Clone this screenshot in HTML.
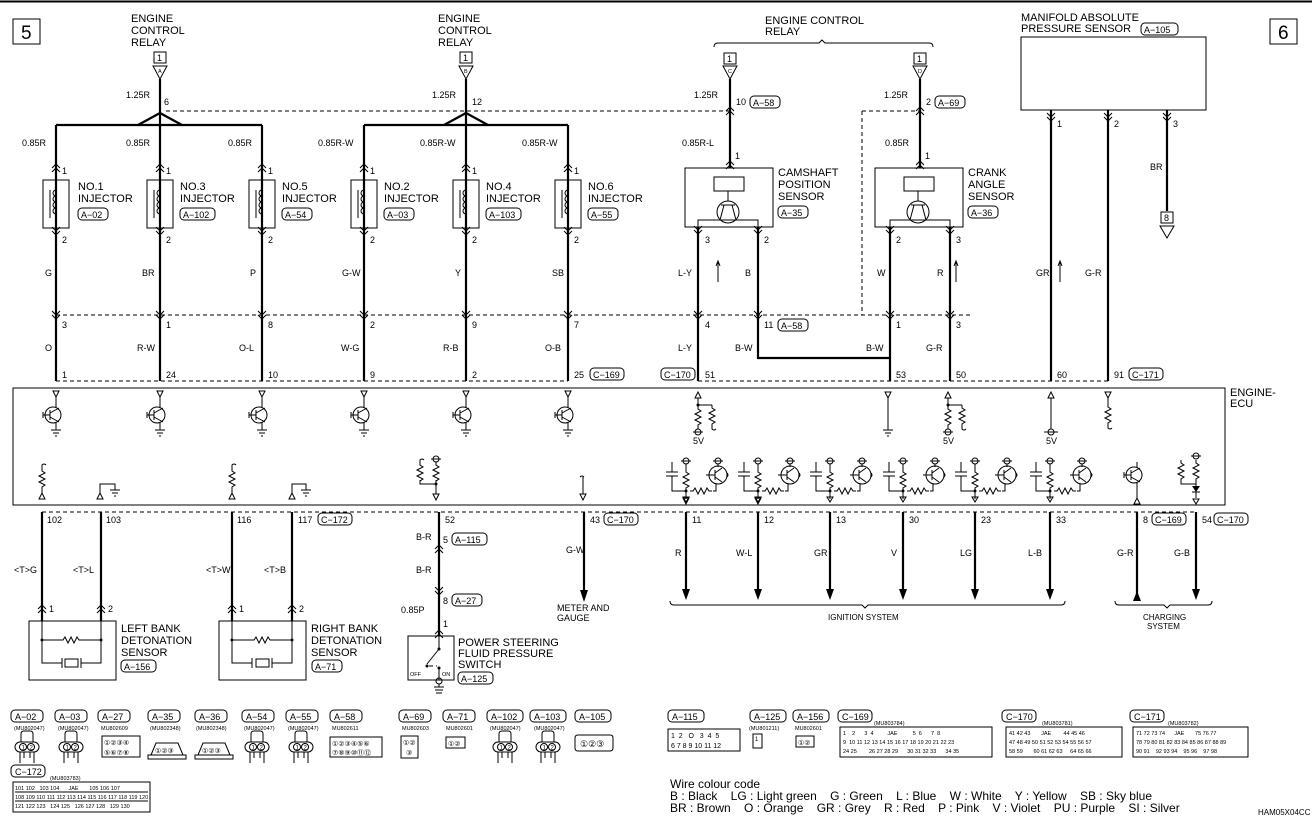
<!DOCTYPE html>
<html><head><meta charset="utf-8"><style>
html,body{margin:0;padding:0;background:#fff}
svg{display:block}
text{font-family:"Liberation Sans",sans-serif;fill:#000;white-space:pre}
.t{font-size:11px}
.s{font-size:9px}
.xs{font-size:5.5px}
.w{stroke:#000;stroke-width:2.2;fill:none}
.l{stroke:#000;stroke-width:1;fill:none}
.d{stroke:#000;stroke-width:1;fill:none;stroke-dasharray:4,3}
</style></head><body>
<svg width="1312" height="818" viewBox="0 0 1312 818" xmlns="http://www.w3.org/2000/svg" xml:space="preserve">
<defs>
<g id="inj">
 <rect x="-13" y="180" width="26" height="48" class="l"/>
 <path d="M0 186 v4 a3 3 0 0 0 0 6 a3 3 0 0 0 0 6 a3 3 0 0 0 0 6 a3 3 0 0 0 0 6 v8" class="l"/>
 <line x1="-6" y1="190" x2="-6" y2="218" class="l"/>
</g>
<g id="tr">
 <circle cx="0" cy="0" r="8" class="l"/>
 <line x1="-3" y1="-5" x2="-3" y2="5" class="l"/>
 <line x1="-10" y1="0" x2="-3" y2="0" class="l"/>
 <path d="M-3 -2 L6 -7 M-3 2 L6 7" class="l"/>
 <line x1="-10" y1="-3" x2="-10" y2="3" class="l"/>
</g>
<g id="res"><path d="M0 0 v3 l3 2 l-6 3 l6 3 l-6 3 l6 3 l-3 2 v3" class="l"/></g>
<g id="hres"><path d="M0 0 h3 l2 -3 l3 6 l3 -6 l3 6 l3 -6 l2 3 h3" class="l"/></g>
<g id="ign">
 <line x1="-14" y1="-13" x2="-14" y2="-3" class="l"/>
 <line x1="-20" y1="-3" x2="-8" y2="-3" class="l"/>
 <line x1="-20" y1="1" x2="-8" y2="1" class="l"/>
 <path d="M-14 1 V16 H0" class="l"/>
 <circle cx="0" cy="-14" r="3" class="l"/><line x1="-5" y1="-14" x2="5" y2="-14" class="l"/>
 <line x1="0" y1="-11" x2="0" y2="-6" class="l"/>
 <use href="#res" x="0" y="-6"/>
 <line x1="0" y1="16" x2="0" y2="24" class="l"/>
 <path d="M-3 22 h6 l-3 5 z" class="l"/>
 <circle cx="0" cy="16" r="1.5" fill="#000"/>
 <use href="#hres" x="4" y="16"/>
 <path d="M27 16 H30 V8" class="l"/>
 <circle cx="32" cy="-14" r="3" class="l"/><line x1="27" y1="-14" x2="37" y2="-14" class="l"/>
 <line x1="32" y1="-11" x2="32" y2="-8" class="l"/>
 <circle cx="32" cy="0" r="9" class="l"/>
 <line x1="29" y1="-5" x2="29" y2="5" class="l"/>
 <path d="M29 -2 L36 -7 M29 2 L36 7 M20 0 H29" class="l"/>
 <path d="M41 -2 q2 2 0 4" class="l"/>
</g>
<g id="chev"><path d="M-4 -3 L0 1 L4 -3 M-4 1 L0 5 L4 1" class="l"/></g>
<g id="up"><path d="M-4 3 L0 -1 L4 3 M-4 7 L0 3 L4 7" class="l"/></g>
<g id="tri"><path d="M-3 0 h6 l-3 6 z" class="l"/></g>
<g id="gnd"><path d="M-5 0 h10 M-3 3 h6 M-1 6 h2" class="l"/></g>
</defs>

<line x1="0" y1="1.5" x2="1312" y2="1.5" stroke="#000" stroke-width="2"/>
<rect x="13" y="19" width="27" height="25" class="l"/><text x="21" y="39" style="font-size:19px">5</text>
<rect x="1270" y="19" width="27" height="25" class="l"/><text x="1278" y="39" style="font-size:19px">6</text>

<!-- relay A -->
<text class="t" x="131" y="22">ENGINE</text><text class="t" x="131" y="34">CONTROL</text><text class="t" x="131" y="46">RELAY</text>
<rect x="154" y="52" width="12" height="11" class="l"/><text class="s" x="157" y="61">1</text>
<path d="M153 66 h14 l-7 13 z" class="l"/><text class="xs" x="158" y="73">A</text>
<line x1="160" y1="79" x2="160" y2="113" class="w"/>
<text class="s" x="126" y="98">1.25R</text><text class="s" x="164" y="105">6</text>
<path d="M160 113 L138 125 M160 113 L182 125" class="w"/>
<line x1="56" y1="125" x2="262" y2="125" class="w"/>
<!-- relay B -->
<text class="t" x="438" y="22">ENGINE</text><text class="t" x="438" y="34">CONTROL</text><text class="t" x="438" y="46">RELAY</text>
<rect x="460" y="52" width="12" height="11" class="l"/><text class="s" x="463" y="61">1</text>
<path d="M459 66 h14 l-7 13 z" class="l"/><text class="xs" x="464" y="73">B</text>
<line x1="466" y1="79" x2="466" y2="113" class="w"/>
<text class="s" x="432" y="98">1.25R</text><text class="s" x="472" y="105">12</text>
<path d="M466 113 L444 125 M466 113 L488 125" class="w"/>
<line x1="364" y1="125" x2="568" y2="125" class="w"/>
<line x1="166" y1="111" x2="730" y2="111" class="d"/>

<!-- injectors -->
<g>
<line x1="56" y1="125" x2="56" y2="381" class="w"/><line x1="160" y1="113" x2="160" y2="381" class="w"/><line x1="262" y1="125" x2="262" y2="381" class="w"/>
<line x1="364" y1="125" x2="364" y2="381" class="w"/><line x1="466" y1="113" x2="466" y2="381" class="w"/><line x1="568" y1="125" x2="568" y2="381" class="w"/>
<use href="#inj" x="56"/><use href="#inj" x="160"/><use href="#inj" x="262"/><use href="#inj" x="364"/><use href="#inj" x="466"/><use href="#inj" x="568"/>
</g>
<g>
<text class="s" x="22" y="146">0.85R</text><text class="s" x="126" y="146">0.85R</text><text class="s" x="228" y="146">0.85R</text>
<text class="s" x="318" y="146">0.85R-W</text><text class="s" x="420" y="146">0.85R-W</text><text class="s" x="522" y="146">0.85R-W</text>
<text class="s" x="62" y="174">1</text><text class="s" x="166" y="174">1</text><text class="s" x="268" y="174">1</text><text class="s" x="370" y="174">1</text><text class="s" x="472" y="174">1</text><text class="s" x="574" y="174">1</text>
<text class="s" x="62" y="243">2</text><text class="s" x="166" y="243">2</text><text class="s" x="268" y="243">2</text><text class="s" x="370" y="243">2</text><text class="s" x="472" y="243">2</text><text class="s" x="574" y="243">2</text>
<text class="s" x="45" y="276">G</text><text class="s" x="142" y="276">BR</text><text class="s" x="250" y="276">P</text><text class="s" x="342" y="276">G-W</text><text class="s" x="455" y="276">Y</text><text class="s" x="552" y="276">SB</text>
<text class="s" x="62" y="328">3</text><text class="s" x="166" y="328">1</text><text class="s" x="268" y="328">8</text><text class="s" x="370" y="328">2</text><text class="s" x="472" y="328">9</text><text class="s" x="574" y="328">7</text>
<text class="s" x="45" y="351">O</text><text class="s" x="137" y="351">R-W</text><text class="s" x="239" y="351">O-L</text><text class="s" x="341" y="351">W-G</text><text class="s" x="443" y="351">R-B</text><text class="s" x="545" y="351">O-B</text>
<text class="s" x="62" y="378">1</text><text class="s" x="166" y="378">24</text><text class="s" x="268" y="378">10</text><text class="s" x="370" y="378">9</text><text class="s" x="472" y="378">2</text><text class="s" x="574" y="378">25</text>
</g>
<g>
<text class="t" x="78" y="190">NO.1</text><text class="t" x="78" y="202">INJECTOR</text><rect x="78" y="208" width="30" height="12" rx="4" class="l"/><text class="s" x="81" y="218">A−02</text>
<text class="t" x="180" y="190">NO.3</text><text class="t" x="180" y="202">INJECTOR</text><rect x="180" y="208" width="35" height="12" rx="4" class="l"/><text class="s" x="183" y="218">A−102</text>
<text class="t" x="282" y="190">NO.5</text><text class="t" x="282" y="202">INJECTOR</text><rect x="282" y="208" width="30" height="12" rx="4" class="l"/><text class="s" x="285" y="218">A−54</text>
<text class="t" x="384" y="190">NO.2</text><text class="t" x="384" y="202">INJECTOR</text><rect x="384" y="208" width="30" height="12" rx="4" class="l"/><text class="s" x="387" y="218">A−03</text>
<text class="t" x="486" y="190">NO.4</text><text class="t" x="486" y="202">INJECTOR</text><rect x="486" y="208" width="35" height="12" rx="4" class="l"/><text class="s" x="489" y="218">A−103</text>
<text class="t" x="588" y="190">NO.6</text><text class="t" x="588" y="202">INJECTOR</text><rect x="588" y="208" width="30" height="12" rx="4" class="l"/><text class="s" x="591" y="218">A−55</text>
</g>
<rect x="590" y="368" width="34" height="12" rx="4" class="l"/><text class="s" x="593" y="378">C−169</text>
<line x1="56" y1="315" x2="970" y2="315" class="d"/>
<line x1="56" y1="381" x2="568" y2="381" class="d"/>
<line x1="698" y1="381" x2="1110" y2="381" class="d"/>

<!-- relay C/D -->
<text class="t" x="765" y="24">ENGINE CONTROL</text><text class="t" x="765" y="35">RELAY</text>
<path d="M714 47 q0 -4 4 -4 H819 l3 -3 l3 3 H929 q4 0 4 4" class="l"/>
<rect x="724" y="53" width="12" height="11" class="l"/><text class="s" x="727" y="62">1</text>
<path d="M723 66 h14 l-7 13 z" class="l"/><text class="xs" x="728" y="73">C</text>
<rect x="914" y="53" width="12" height="11" class="l"/><text class="s" x="917" y="62">1</text>
<path d="M913 66 h14 l-7 13 z" class="l"/><text class="xs" x="918" y="73">D</text>
<line x1="730" y1="79" x2="730" y2="168" class="w"/>
<line x1="920" y1="79" x2="920" y2="168" class="w"/>
<text class="s" x="694" y="98">1.25R</text><text class="s" x="736" y="105">10</text><rect x="750" y="96" width="30" height="12" rx="4" class="l"/><text class="s" x="753" y="106">A−58</text>
<text class="s" x="884" y="98">1.25R</text><text class="s" x="926" y="105">2</text><rect x="935" y="96" width="30" height="12" rx="4" class="l"/><text class="s" x="938" y="106">A−69</text>
<text class="s" x="682" y="146">0.85R-L</text><text class="s" x="885" y="146">0.85R</text>
<text class="s" x="735" y="159">1</text><text class="s" x="925" y="159">1</text>
<path d="M862 111 H920" class="d"/><path d="M862 111 V315" class="d"/>
<use href="#up" x="730" y="108"/><use href="#up" x="730" y="162"/><use href="#up" x="920" y="108"/><use href="#up" x="920" y="162"/>
<!-- cam sensor -->
<rect x="685" y="168" width="88" height="59" class="l"/>
<rect x="714" y="177" width="30" height="14" class="l"/>
<line x1="728" y1="191" x2="728" y2="201" class="l"/>
<circle cx="728" cy="212" r="11" class="l"/><path d="M721 205 h14 M724 205 l-4 15 M732 205 l4 15" class="l"/>
<path d="M698 227 V220 H758 V227" class="l"/>
<text class="t" x="778" y="176">CAMSHAFT</text><text class="t" x="778" y="188">POSITION</text><text class="t" x="778" y="200">SENSOR</text>
<rect x="778" y="206" width="30" height="12" rx="4" class="l"/><text class="s" x="781" y="216">A−35</text>
<!-- crank -->
<rect x="875" y="168" width="88" height="59" class="l"/>
<rect x="904" y="177" width="30" height="14" class="l"/>
<line x1="918" y1="191" x2="918" y2="201" class="l"/>
<circle cx="918" cy="212" r="11" class="l"/><path d="M911 205 h14 M914 205 l-4 15 M922 205 l4 15" class="l"/>
<path d="M890 227 V220 H950 V227" class="l"/>
<text class="t" x="968" y="176">CRANK</text><text class="t" x="968" y="188">ANGLE</text><text class="t" x="968" y="200">SENSOR</text>
<rect x="968" y="206" width="30" height="12" rx="4" class="l"/><text class="s" x="971" y="216">A−36</text>
<!-- cam/crank wires -->
<line x1="698" y1="227" x2="698" y2="381" class="w"/>
<path d="M758 227 V358 H890" class="w"/>
<line x1="890" y1="227" x2="890" y2="381" class="w"/>
<line x1="950" y1="227" x2="950" y2="381" class="w"/>
<text class="s" x="705" y="243">3</text><text class="s" x="764" y="243">2</text><text class="s" x="896" y="243">2</text><text class="s" x="956" y="243">3</text>
<text class="s" x="678" y="276">L-Y</text><text class="s" x="745" y="276">B</text><text class="s" x="877" y="276">W</text><text class="s" x="937" y="276">R</text>
<path d="M718 282 V262 M716 266 l2 -5 l2 5" class="l"/><path d="M956 282 V262 M954 266 l2 -5 l2 5" class="l"/>
<text class="s" x="705" y="328">4</text><text class="s" x="764" y="328">11</text><rect x="778" y="319" width="30" height="12" rx="4" class="l"/><text class="s" x="781" y="329">A−58</text>
<text class="s" x="896" y="328">1</text><text class="s" x="956" y="328">3</text>
<text class="s" x="678" y="351">L-Y</text><text class="s" x="735" y="351">B-W</text><text class="s" x="866" y="351">B-W</text><text class="s" x="926" y="351">G-R</text>
<rect x="661" y="368" width="34" height="12" rx="4" class="l"/><text class="s" x="664" y="378">C−170</text>
<text class="s" x="705" y="378">51</text><text class="s" x="896" y="378">53</text><text class="s" x="956" y="378">50</text>
<!-- MAP -->
<text class="t" x="1021" y="21">MANIFOLD ABSOLUTE</text><text class="t" x="1021" y="32">PRESSURE SENSOR</text>
<rect x="1141" y="23" width="37" height="12" rx="4" class="l"/><text class="s" x="1144" y="33">A−105</text>
<rect x="1021" y="37" width="185" height="73" class="l"/>
<line x1="1051" y1="110" x2="1051" y2="381" class="w"/>
<line x1="1108" y1="110" x2="1108" y2="381" class="w"/>
<line x1="1167" y1="110" x2="1167" y2="211" class="w"/>
<use href="#chev" x="1051" y="116"/><use href="#chev" x="1108" y="116"/><use href="#chev" x="1167" y="116"/>
<text class="s" x="1057" y="127">1</text><text class="s" x="1114" y="127">2</text><text class="s" x="1173" y="127">3</text>
<text class="s" x="1150" y="170">BR</text>
<rect x="1161" y="212" width="12" height="11" class="l"/><text class="s" x="1164" y="221">8</text>
<path d="M1160 226 h14 l-7 12 z" class="l"/>
<text class="s" x="1036" y="276">GR</text><text class="s" x="1085" y="276">G-R</text>
<path d="M1060 282 V262 M1058 266 l2 -5 l2 5" class="l"/>
<text class="s" x="1057" y="378">60</text><text class="s" x="1114" y="378">91</text>
<rect x="1129" y="368" width="34" height="12" rx="4" class="l"/><text class="s" x="1132" y="378">C−171</text>

<!-- chevrons -->
<g>
<use href="#chev" x="56" y="314"/><use href="#chev" x="160" y="314"/><use href="#chev" x="262" y="314"/><use href="#chev" x="364" y="314"/><use href="#chev" x="466" y="314"/><use href="#chev" x="568" y="314"/>
<use href="#chev" x="698" y="314"/><use href="#chev" x="758" y="314"/><use href="#chev" x="890" y="314"/><use href="#chev" x="950" y="314"/>
<use href="#chev" x="698" y="229"/><use href="#chev" x="758" y="229"/><use href="#chev" x="890" y="229"/><use href="#chev" x="950" y="229"/>
<use href="#up" x="56" y="165"/><use href="#up" x="160" y="165"/><use href="#up" x="262" y="165"/><use href="#up" x="364" y="165"/><use href="#up" x="466" y="165"/><use href="#up" x="568" y="165"/>
<use href="#chev" x="56" y="230"/><use href="#chev" x="160" y="230"/><use href="#chev" x="262" y="230"/><use href="#chev" x="364" y="230"/><use href="#chev" x="466" y="230"/><use href="#chev" x="568" y="230"/>
</g>

<!-- ECU -->
<rect x="13" y="388" width="1212" height="117" class="l"/>
<text class="t" x="1230" y="396">ENGINE-</text><text class="t" x="1230" y="407">ECU</text>
<g>
<use href="#tri" x="56" y="391"/><line x1="56" y1="397" x2="56" y2="408" class="l"/><use href="#tr" x="53" y="415"/><line x1="56" y1="422" x2="56" y2="430" class="l"/><use href="#gnd" x="56" y="430"/>
<use href="#tri" x="160" y="391"/><line x1="160" y1="397" x2="160" y2="408" class="l"/><use href="#tr" x="157" y="415"/><line x1="160" y1="422" x2="160" y2="430" class="l"/><use href="#gnd" x="160" y="430"/>
<use href="#tri" x="262" y="391"/><line x1="262" y1="397" x2="262" y2="408" class="l"/><use href="#tr" x="259" y="415"/><line x1="262" y1="422" x2="262" y2="430" class="l"/><use href="#gnd" x="262" y="430"/>
<use href="#tri" x="364" y="391"/><line x1="364" y1="397" x2="364" y2="408" class="l"/><use href="#tr" x="361" y="415"/><line x1="364" y1="422" x2="364" y2="430" class="l"/><use href="#gnd" x="364" y="430"/>
<use href="#tri" x="466" y="391"/><line x1="466" y1="397" x2="466" y2="408" class="l"/><use href="#tr" x="463" y="415"/><line x1="466" y1="422" x2="466" y2="430" class="l"/><use href="#gnd" x="466" y="430"/>
<use href="#tri" x="568" y="391"/><line x1="568" y1="397" x2="568" y2="408" class="l"/><use href="#tr" x="565" y="415"/><line x1="568" y1="422" x2="568" y2="430" class="l"/><use href="#gnd" x="568" y="430"/>
</g>
<g>
<path d="M695 398 h6 l-3 -6 z" class="l"/><line x1="698" y1="398" x2="698" y2="405" class="l"/><circle cx="698" cy="405" r="1.5"/><path d="M698 405 H712" class="l"/>
<use href="#res" x="698" y="406"/><use href="#res" x="712" y="405"/><line x1="698" y1="426" x2="698" y2="429" class="l"/><circle cx="698" cy="432" r="3" class="l"/><line x1="693" y1="432" x2="703" y2="432" class="l"/><text class="s" x="693" y="444">5V</text>
<path d="M712 425 v4 q2 2 4 0" class="l"/>
<path d="M885 392 h6 l-3 6 z" class="l"/><line x1="888" y1="398" x2="888" y2="430" class="l"/><use href="#gnd" x="888" y="430"/>
<path d="M945 398 h6 l-3 -6 z" class="l"/><line x1="948" y1="398" x2="948" y2="405" class="l"/><circle cx="948" cy="405" r="1.5"/><path d="M948 405 H962" class="l"/>
<use href="#res" x="948" y="406"/><use href="#res" x="962" y="405"/><line x1="948" y1="426" x2="948" y2="429" class="l"/><circle cx="948" cy="432" r="3" class="l"/><line x1="943" y1="432" x2="953" y2="432" class="l"/><text class="s" x="943" y="444">5V</text>
<path d="M962 425 v4 q2 2 4 0" class="l"/>
<path d="M1048 398 h6 l-3 -6 z" class="l"/><line x1="1051" y1="398" x2="1051" y2="429" class="l"/><circle cx="1051" cy="432" r="3" class="l"/><line x1="1044" y1="432" x2="1058" y2="432" class="l"/><text class="s" x="1046" y="444">5V</text>
<path d="M1105 392 h6 l-3 6 z" class="l"/><line x1="1108" y1="398" x2="1108" y2="404" class="l"/><use href="#res" x="1108" y="404"/><path d="M1108 424 v4 q2 2 4 0" class="l"/>
</g>
<use href="#ign" x="686" y="475"/><use href="#ign" x="758" y="475"/><use href="#ign" x="830" y="475"/>
<use href="#ign" x="903" y="475"/><use href="#ign" x="975" y="475"/><use href="#ign" x="1050" y="475"/>
<use href="#tr" x="1134" y="475"/><line x1="1137" y1="462" x2="1137" y2="468" class="l"/><line x1="1137" y1="482" x2="1137" y2="498" class="l"/><path d="M1134 504 h6 l-3 -6 z" class="l"/>
<use href="#res" x="1181" y="460"/><use href="#res" x="1196" y="460"/><circle cx="1196" cy="456" r="3" class="l"/><line x1="1191" y1="456" x2="1201" y2="456" class="l"/>
<path d="M1181 480 V484 H1196 M1196 480 V498" class="l"/><path d="M1192 486 h8 l-4 6 z" fill="#000"/><line x1="1192" y1="492" x2="1200" y2="492" class="l"/>
<path d="M1193 499 h6 l-3 5 z" class="l"/>
<path d="M39 499 h6 l-3 -6 z" class="l"/><line x1="42" y1="493" x2="42" y2="488" class="l"/><use href="#res" x="42" y="468"/><path d="M42 468 v-3 q2 -2 4 0" class="l"/>
<path d="M97 499 h6 l-3 -6 z" class="l"/><path d="M100 493 V484 H115 V490" class="l"/><use href="#gnd" x="115" y="490"/>
<path d="M229 499 h6 l-3 -6 z" class="l"/><line x1="232" y1="493" x2="232" y2="488" class="l"/><use href="#res" x="232" y="468"/><path d="M232 468 v-3 q2 -2 4 0" class="l"/>
<path d="M289 499 h6 l-3 -6 z" class="l"/><path d="M292 493 V484 H306 V490" class="l"/><use href="#gnd" x="306" y="490"/>
<path d="M433 494 h6 l-3 6 z" class="l"/><path d="M436 494 V484 H420 V480 M436 484 V480" class="l"/><circle cx="436" cy="484" r="1.5"/>
<use href="#res" x="420" y="462"/><use href="#res" x="436" y="462"/><circle cx="436" cy="459" r="3" class="l"/><line x1="431" y1="459" x2="441" y2="459" class="l"/><path d="M420 462 v-2 q2 -2 4 0" class="l"/>
<path d="M580 494 h6 l-3 6 z" class="l"/><line x1="583" y1="494" x2="583" y2="477" class="l"/><path d="M580 477 q2 -2 4 0" class="l"/>
<use href="#tri" x="686" y="498"/><use href="#tri" x="758" y="498"/>

<!-- below ECU -->
<line x1="42" y1="512" x2="1196" y2="512" class="d"/>
<g>
<line x1="42" y1="512" x2="42" y2="621" class="w"/><line x1="101" y1="512" x2="101" y2="621" class="w"/>
<line x1="232" y1="512" x2="232" y2="621" class="w"/><line x1="292" y1="512" x2="292" y2="621" class="w"/>
<line x1="439" y1="512" x2="439" y2="636" class="w"/>
<line x1="584" y1="512" x2="584" y2="592" class="w"/><path d="M580 590 h8 l-4 12 z" fill="#000"/>
</g>
<text class="s" x="47" y="523">102</text><text class="s" x="106" y="523">103</text><text class="s" x="237" y="523">116</text><text class="s" x="298" y="523">117</text>
<rect x="318" y="513" width="34" height="12" rx="4" class="l"/><text class="s" x="321" y="523">C−172</text>
<text class="s" x="445" y="523">52</text><text class="s" x="590" y="523">43</text>
<rect x="604" y="513" width="34" height="12" rx="4" class="l"/><text class="s" x="607" y="523">C−170</text>
<text class="s" x="14" y="573">&lt;T&gt;G</text><text class="s" x="73" y="573">&lt;T&gt;L</text><text class="s" x="206" y="573">&lt;T&gt;W</text><text class="s" x="264" y="573">&lt;T&gt;B</text>
<use href="#up" x="42" y="606"/><use href="#up" x="101" y="606"/><use href="#up" x="232" y="606"/><use href="#up" x="292" y="606"/>
<text class="s" x="49" y="612">1</text><text class="s" x="108" y="612">2</text><text class="s" x="239" y="612">1</text><text class="s" x="299" y="612">2</text>
<rect x="29" y="621" width="87" height="59" class="l"/>
<path d="M42 621 V663 H62 M101 621 V663 H81 M42 640 H62 M81 640 H101" class="l"/><use href="#hres" x="60" y="640"/>
<circle cx="42" cy="640" r="1.5"/><circle cx="101" cy="640" r="1.5"/>
<path d="M62 658 v10 M81 658 v10" class="l"/><rect x="65" y="659" width="13" height="8" class="l"/>
<text class="t" x="121" y="632">LEFT BANK</text><text class="t" x="121" y="644">DETONATION</text><text class="t" x="121" y="656">SENSOR</text>
<rect x="121" y="660" width="35" height="12" rx="4" class="l"/><text class="s" x="124" y="670">A−156</text>
<rect x="219" y="621" width="87" height="59" class="l"/>
<path d="M232 621 V663 H252 M292 621 V663 H272 M232 640 H252 M272 640 H292" class="l"/><use href="#hres" x="251" y="640"/>
<circle cx="232" cy="640" r="1.5"/><circle cx="292" cy="640" r="1.5"/>
<path d="M252 658 v10 M272 658 v10" class="l"/><rect x="256" y="659" width="13" height="8" class="l"/>
<text class="t" x="311" y="632">RIGHT BANK</text><text class="t" x="311" y="644">DETONATION</text><text class="t" x="311" y="656">SENSOR</text>
<rect x="312" y="660" width="30" height="12" rx="4" class="l"/><text class="s" x="315" y="670">A−71</text>
<text class="s" x="416" y="540">B-R</text><text class="s" x="443" y="543">5</text><rect x="452" y="533" width="35" height="12" rx="4" class="l"/><text class="s" x="455" y="543">A−115</text>
<use href="#up" x="439" y="546"/>
<text class="s" x="416" y="573">B-R</text>
<use href="#chev" x="439" y="590"/>
<text class="s" x="443" y="604">8</text><rect x="452" y="594" width="30" height="12" rx="4" class="l"/><text class="s" x="455" y="604">A−27</text>
<text class="s" x="401" y="613">0.85P</text><text class="s" x="443" y="627">1</text>
<use href="#up" x="439" y="631"/>
<rect x="408" y="636" width="46" height="44" class="l"/>
<path d="M439 636 V649 L427 664" class="l"/><circle cx="439" cy="649" r="1.5"/><circle cx="427" cy="666" r="1.5"/><circle cx="439" cy="668" r="1.5"/>
<path d="M429 666 h8" class="d"/><line x1="439" y1="668" x2="439" y2="680" class="l"/>
<text class="xs" x="410" y="676">OFF</text><text class="xs" x="442" y="676">ON</text>
<circle cx="439" cy="681" r="3" class="l"/><path d="M439 684 V687 M434 687 h10 M435 690 h8 M436 693 h6" class="l"/>
<text class="t" x="458" y="646">POWER STEERING</text><text class="t" x="458" y="657">FLUID PRESSURE</text><text class="t" x="458" y="668">SWITCH</text>
<rect x="458" y="672" width="35" height="12" rx="4" class="l"/><text class="s" x="461" y="682">A−125</text>
<text class="s" x="566" y="553">G-W</text>
<text class="s" x="557" y="611">METER AND</text><text class="s" x="557" y="621">GAUGE</text>
<g>
<line x1="686" y1="512" x2="686" y2="590" class="w"/><path d="M682 589 h8 l-4 11 z" fill="#000"/>
<line x1="758" y1="512" x2="758" y2="590" class="w"/><path d="M754 589 h8 l-4 11 z" fill="#000"/>
<line x1="830" y1="512" x2="830" y2="590" class="w"/><path d="M826 589 h8 l-4 11 z" fill="#000"/>
<line x1="903" y1="512" x2="903" y2="590" class="w"/><path d="M899 589 h8 l-4 11 z" fill="#000"/>
<line x1="975" y1="512" x2="975" y2="590" class="w"/><path d="M971 589 h8 l-4 11 z" fill="#000"/>
<line x1="1050" y1="512" x2="1050" y2="590" class="w"/><path d="M1046 589 h8 l-4 11 z" fill="#000"/>
<line x1="1137" y1="512" x2="1137" y2="600" class="w"/><path d="M1133 601 h8 l-4 -10 z" fill="#000"/>
<line x1="1196" y1="512" x2="1196" y2="590" class="w"/><path d="M1192 589 h8 l-4 11 z" fill="#000"/>
</g>
<text class="s" x="692" y="523">11</text><text class="s" x="764" y="523">12</text><text class="s" x="836" y="523">13</text><text class="s" x="909" y="523">30</text><text class="s" x="981" y="523">23</text><text class="s" x="1056" y="523">33</text>
<text class="s" x="1143" y="523">8</text><rect x="1152" y="513" width="34" height="12" rx="4" class="l"/><text class="s" x="1155" y="523">C−169</text>
<text class="s" x="1202" y="523">54</text><rect x="1214" y="513" width="34" height="12" rx="4" class="l"/><text class="s" x="1217" y="523">C−170</text>
<text class="s" x="675" y="556">R</text><text class="s" x="736" y="556">W-L</text><text class="s" x="814" y="556">GR</text><text class="s" x="891" y="556">V</text><text class="s" x="960" y="556">LG</text><text class="s" x="1028" y="556">L-B</text>
<text class="s" x="1117" y="556">G-R</text><text class="s" x="1174" y="556">G-B</text>
<path d="M670 601 q0 4 4 4 H862 l3 3 l3 -3 H1061 q4 0 4 -4" class="l"/>
<text x="828" y="620" style="font-size:8px">IGNITION SYSTEM</text>
<path d="M1115 601 q0 4 4 4 H1164 l3 3 l3 -3 H1208 q4 0 4 -4" class="l"/>
<text x="1143" y="620" style="font-size:8px">CHARGING</text><text x="1147" y="629" style="font-size:8px">SYSTEM</text>

<!-- connector legend -->
<g>
<rect x="11" y="710" width="32" height="12" rx="4" class="l"/><text class="s" x="15" y="720">A−02</text>
<rect x="55" y="710" width="32" height="12" rx="4" class="l"/><text class="s" x="59" y="720">A−03</text>
<rect x="98" y="710" width="32" height="12" rx="4" class="l"/><text class="s" x="102" y="720">A−27</text>
<rect x="148" y="710" width="32" height="12" rx="4" class="l"/><text class="s" x="152" y="720">A−35</text>
<rect x="195" y="710" width="32" height="12" rx="4" class="l"/><text class="s" x="199" y="720">A−36</text>
<rect x="242" y="710" width="32" height="12" rx="4" class="l"/><text class="s" x="246" y="720">A−54</text>
<rect x="286" y="710" width="32" height="12" rx="4" class="l"/><text class="s" x="290" y="720">A−55</text>
<rect x="330" y="710" width="32" height="12" rx="4" class="l"/><text class="s" x="334" y="720">A−58</text>
<rect x="399" y="710" width="32" height="12" rx="4" class="l"/><text class="s" x="403" y="720">A−69</text>
<rect x="443" y="710" width="32" height="12" rx="4" class="l"/><text class="s" x="447" y="720">A−71</text>
<rect x="487" y="710" width="36" height="12" rx="4" class="l"/><text class="s" x="491" y="720">A−102</text>
<rect x="530" y="710" width="36" height="12" rx="4" class="l"/><text class="s" x="534" y="720">A−103</text>
<rect x="575" y="710" width="36" height="12" rx="4" class="l"/><text class="s" x="579" y="720">A−105</text>
</g>
<g>
<text class="xs" x="14" y="730">(MU802047)</text><text class="xs" x="58" y="730">(MU802047)</text><text class="xs" x="101" y="730">MU802609</text>
<text class="xs" x="150" y="730">(MU802348)</text><text class="xs" x="196" y="730">(MU802348)</text><text class="xs" x="244" y="730">(MU802047)</text>
<text class="xs" x="288" y="730">(MU802047)</text><text class="xs" x="332" y="730">MU802611</text><text class="xs" x="402" y="730">MU802603</text>
<text class="xs" x="446" y="730">MU802601</text><text class="xs" x="490" y="730">(MU802047)</text><text class="xs" x="534" y="730">(MU802047)</text>
</g>
<g id="c2">
 <path d="M21 742 v-8 q0 -3 3 -3 h6 q3 0 3 3 v8" class="l"/>
 <rect x="15" y="742" width="24" height="10" rx="5" class="l"/>
 <circle cx="23" cy="747" r="3.5" class="l"/><circle cx="31" cy="747" r="3.5" class="l"/>
 <text x="21.5" y="749.5" style="font-size:6px">1</text><text x="29.5" y="749.5" style="font-size:6px">2</text>
 <path d="M20 752 v11 M34 752 v11 M24 752 v6 M30 752 v6" class="l"/>
</g>
<use href="#c2" x="44"/><use href="#c2" x="230"/><use href="#c2" x="274"/><use href="#c2" x="478"/><use href="#c2" x="521"/>
<rect x="102" y="736" width="38" height="21" class="l"/>
<text x="104" y="745" style="font-size:7px">①②③④</text><text x="104" y="755" style="font-size:7px">⑤⑥⑦⑧</text>
<path d="M151 755 l5 -12 h22 l5 12 z M148 755 h38 v4 h-38 z" class="l"/><text x="155" y="753" style="font-size:7px">①②③</text>
<path d="M198 755 l5 -12 h22 l5 12 z M195 755 h38 v4 h-38 z" class="l"/><text x="202" y="753" style="font-size:7px">①②③</text>
<rect x="330" y="737" width="52" height="20" class="l"/>
<text x="332" y="746" style="font-size:7px">①②③④⑤⑥</text><text x="332" y="755" style="font-size:7px">⑦⑧⑨⑩⑪⑫</text>
<rect x="401" y="736" width="17" height="22" class="l"/><text x="403" y="745" style="font-size:7px">①②</text><text x="406" y="755" style="font-size:7px">③</text>
<rect x="446" y="737" width="19" height="11" class="l"/><text x="448" y="746" style="font-size:7px">①②</text>
<path d="M578 735 h32 q3 0 3 3 v10 q0 3 -3 3 h-32 q-3 0 -3 -3 v-10 q0 -3 3 -3 z" class="l"/><text x="580" y="747" style="font-size:9px">①②③</text>
<rect x="11" y="765" width="34" height="12" rx="4" class="l"/><text class="s" x="15" y="775">C−172</text>
<text class="xs" x="50" y="780">(MU803783)</text>
<rect x="13" y="782" width="137" height="30" class="l"/>
<text x="15" y="790" style="font-size:5.5px">101 102   103 104      JAE       105 106 107</text>
<text x="15" y="799" style="font-size:5.5px">108 109 110 111 112 113 114 115 116 117 118 119 120</text>
<text x="15" y="808" style="font-size:5.5px">121 122 123   124 125   126 127 128   129 130</text>
<path d="M15 792 H148 M15 801 H148" class="l" stroke-width="0.5"/>

<rect x="668" y="710" width="36" height="12" rx="4" class="l"/><text class="s" x="672" y="720">A−115</text>
<rect x="668" y="729" width="72" height="22" class="l"/>
<text x="671" y="738" style="font-size:7px">1  2   O   3  4  5</text><text x="671" y="748" style="font-size:7px">6 7 8 9 10 11 12</text>
<rect x="750" y="710" width="36" height="12" rx="4" class="l"/><text class="s" x="754" y="720">A−125</text>
<text class="xs" x="749" y="730">(MU801211)</text>
<rect x="753" y="734" width="9" height="14" class="l"/><text x="755" y="741" style="font-size:6px">1</text>
<rect x="793" y="710" width="36" height="12" rx="4" class="l"/><text class="s" x="797" y="720">A−156</text>
<text class="xs" x="795" y="730">MU802601</text>
<rect x="796" y="736" width="18" height="11" class="l"/><text x="798" y="745" style="font-size:7px">①②</text>
<rect x="838" y="710" width="34" height="12" rx="4" class="l"/><text class="s" x="842" y="720">C−169</text>
<text class="xs" x="874" y="725">(MU803784)</text>
<rect x="840" y="727" width="152" height="30" class="l"/>
<text x="843" y="735" style="font-size:5.5px">1    2      3  4         JAE          5  6      7  8</text>
<text x="843" y="744" style="font-size:5.5px">9  10 11 12 13 14 15 16 17 18 19 20 21 22 23</text>
<text x="843" y="753" style="font-size:5.5px">24 25        26 27 28 29      30 31 32 33      34 35</text>
<rect x="1002" y="710" width="34" height="12" rx="4" class="l"/><text class="s" x="1006" y="720">C−170</text>
<text class="xs" x="1042" y="725">(MU803781)</text>
<rect x="1006" y="727" width="116" height="30" class="l"/>
<text x="1009" y="735" style="font-size:5.5px">41 42 43       JAE        44 45 46</text>
<text x="1009" y="744" style="font-size:5.5px">47 48 49 50 51 52 53 54 55 56 57</text>
<text x="1009" y="753" style="font-size:5.5px">58 59       60 61 62 63     64 65 66</text>
<rect x="1130" y="710" width="34" height="12" rx="4" class="l"/><text class="s" x="1134" y="720">C−171</text>
<text class="xs" x="1168" y="725">(MU803782)</text>
<rect x="1133" y="727" width="115" height="30" class="l"/>
<text x="1136" y="735" style="font-size:5.5px">71 72 73 74      JAE       75 76 77</text>
<text x="1136" y="744" style="font-size:5.5px">78 79 80 81 82 83 84 85 86 87 88 89</text>
<text x="1136" y="753" style="font-size:5.5px">90 91    92 93 94    95 96    97 98</text>

<text x="670" y="788" style="font-size:12px">Wire colour code</text>
<text x="670" y="800" style="font-size:12px">B : Black    LG : Light green    G : Green    L : Blue    W : White    Y : Yellow    SB : Sky blue</text>
<text x="670" y="812" style="font-size:12px">BR : Brown    O : Orange    GR : Grey    R : Red    P : Pink    V : Violet    PU : Purple    SI : Silver</text>
<text x="1258" y="815" style="font-size:8px">HAM05X04CC</text>
</svg>
</body></html>
